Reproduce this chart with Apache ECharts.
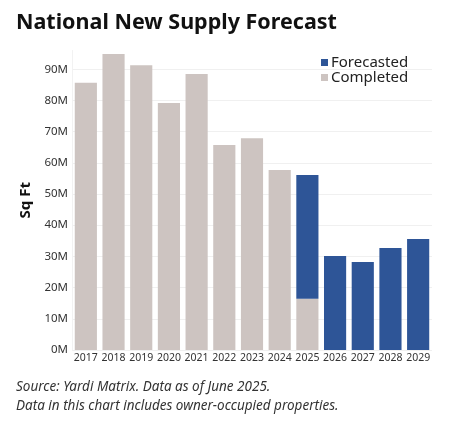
<!DOCTYPE html>
<html>
<head>
<meta charset="utf-8">
<script src="https://cdn.jsdelivr.net/npm/echarts@6/dist/echarts.min.js"></script>
<style>
  html, body { margin: 0; padding: 0; background: #fff; }
  #main { width: 454px; height: 422px; }
</style>
</head>
<body>
<div id="main"></div>
<script>
// values in millions of sq ft
const years = ['2017', '2018', '2019', '2020', '2021', '2022', '2023', '2024', '2025', '2026', '2027', '2028', '2029'];
const completed = [85.7, 94.9, 91.3, 79.2, 88.5, 65.7, 67.9, 57.7, 16.4, null, null, null, null];
// forecasted part stacked on top of completed
const forecasted = [null, null, null, null, null, null, null, null, 39.7, 30.1, 28.2, 32.7, 35.6];
const yTicks = [0, 10, 20, 30, 40, 50, 60, 70, 80, 90];

const font = '"Noto Sans", sans-serif';
const chart = echarts.init(document.getElementById('main'));

const option = {
  animation: false,
  textStyle: { fontFamily: font },
  title: {
    text: 'National New Supply Forecast',
    left: 11,
    top: 7,
    textStyle: { fontSize: 21.5, fontWeight: 'bold', color: '#111' }
  },
  legend: {
    data: ['Forecasted', 'Completed'],
    orient: 'vertical',
    left: 316,
    top: 50,
    itemWidth: 7,
    itemHeight: 7,
    itemGap: 0,
    icon: 'rect',
    textStyle: { fontSize: 15, lineHeight: 15, color: '#222', padding: [0, 0, 0, -2] }
  },
  grid: { left: 72, right: 22, top: 50.5, bottom: 72 },
  xAxis: {
    type: 'category',
    data: years,
    axisLine: { show: false },
    axisTick: { show: false },
    axisLabel: { fontSize: 10.5, color: '#333', margin: 3, interval: 0 }
  },
  yAxis: {
    type: 'value',
    min: 0,
    max: 96,
    interval: 10,
    name: 'Sq Ft',
    nameLocation: 'middle',
    nameRotate: 90,
    nameGap: 37,
    nameTextStyle: { fontSize: 15, fontWeight: 'bold', color: '#111' },
    axisLine: { show: true, lineStyle: { color: '#f2f2f2' } },
    axisTick: { show: false },
    axisLabel: {
      fontSize: 11.5, color: '#333', margin: 4,
      formatter: v => (yTicks.indexOf(v) >= 0 ? v + 'M' : '')
    },
    splitLine: { showMaxLine: false, lineStyle: { color: '#f0f0f0' } }
  },
  series: [
    {
      name: 'Completed',
      type: 'bar',
      stack: 'supply',
      data: completed,
      barCategoryGap: '20%',
      itemStyle: { color: '#CDC4C1' }
    },
    {
      name: 'Forecasted',
      type: 'bar',
      stack: 'supply',
      data: forecasted,
      itemStyle: { color: '#2E5597' }
    }
  ],
  graphic: [
    {
      type: 'text', left: 16, top: 380,
      style: { text: 'Source: Yardi Matrix. Data as of June 2025.', font: 'italic 13.5px ' + font, fill: '#333' }
    },
    {
      type: 'text', left: 16, top: 399,
      style: { text: 'Data in this chart includes owner-occupied properties.', font: 'italic 13.5px ' + font, fill: '#333' }
    }
  ]
};

chart.setOption(option);
</script>
</body>
</html>
